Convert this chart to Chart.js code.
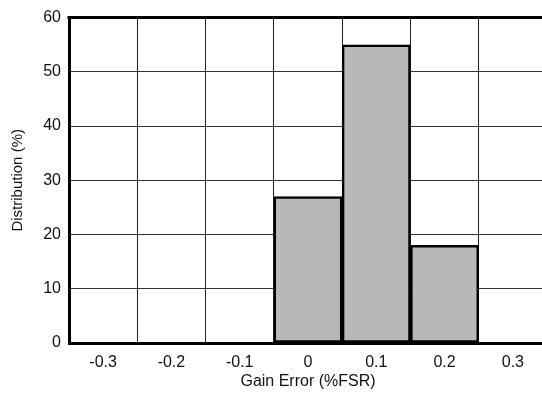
<!DOCTYPE html>
<html>
<head>
<meta charset="utf-8">
<script src="https://cdn.jsdelivr.net/npm/chart.js@4"></script>
<style>
  html, body { margin: 0; padding: 0; background: #fff; overflow: hidden; }
  #wrap { width: 560px; height: 394px; position: relative; }
</style>
</head>
<body>
<div id="wrap"><canvas id="c" width="560" height="394"></canvas></div>
<script>
// Gain error histogram bins (%FSR) and share of units per bin (%)
const categories = ['-0.3', '-0.2', '-0.1', '0', '0.1', '0.2', '0.3'];
const distribution = [null, null, null, 27, 55, 18, null];
const yTicks = [0, 10, 20, 30, 40, 50, 60];

const FONT = 'Liberation Sans, Arial, Helvetica, sans-serif';

// Closes the frame along the top of the plot area
const topBorder = {
  id: 'topBorder',
  afterDraw(chart) {
    const { ctx, chartArea: a } = chart;
    ctx.save();
    ctx.strokeStyle = '#000';
    ctx.lineWidth = 3;
    ctx.beginPath();
    ctx.moveTo(a.left - 1.5, a.top);
    ctx.lineTo(a.right, a.top);
    ctx.stroke();
    ctx.restore();
  }
};

new Chart(document.getElementById('c'), {
  type: 'bar',
  data: {
    labels: categories,
    datasets: [{
      data: distribution,
      backgroundColor: '#b8b8b8',
      borderColor: '#000',
      borderWidth: 2.5,
      borderSkipped: false,
      barPercentage: 1,
      categoryPercentage: 1
    }]
  },
  options: {
    responsive: false,
    animation: false,
    devicePixelRatio: 1,
    layout: { padding: { top: 15, right: 13, left: 0, bottom: 0 } },
    plugins: { legend: { display: false }, tooltip: { enabled: false } },
    scales: {
      x: {
        offset: true,
        grid: { color: '#222', lineWidth: 1, drawTicks: false, offset: true },
        border: { color: '#000', width: 3 },
        ticks: { color: '#111', font: { family: FONT, size: 16 }, padding: 10, maxRotation: 0 },
        title: { display: true, text: 'Gain Error (%FSR)', color: '#111', font: { family: FONT, size: 16 }, padding: { top: 0, bottom: 3 } },
        afterFit(s) { s.height = 51; }
      },
      y: {
        min: 0,
        max: 60,
        afterBuildTicks(s) { s.ticks = yTicks.map(v => ({ value: v })); },
        grid: { color: '#333', lineWidth: 1, drawTicks: false },
        border: { color: '#000', width: 3 },
        ticks: { color: '#111', font: { family: FONT, size: 16 }, padding: 8 },
        title: { display: true, text: 'Distribution (%)', color: '#111', font: { family: FONT, size: 15 }, padding: { top: 9, bottom: 0 } },
        afterFit(s) { s.width = 69; }
      }
    }
  },
  plugins: [topBorder]
});
</script>
</body>
</html>
